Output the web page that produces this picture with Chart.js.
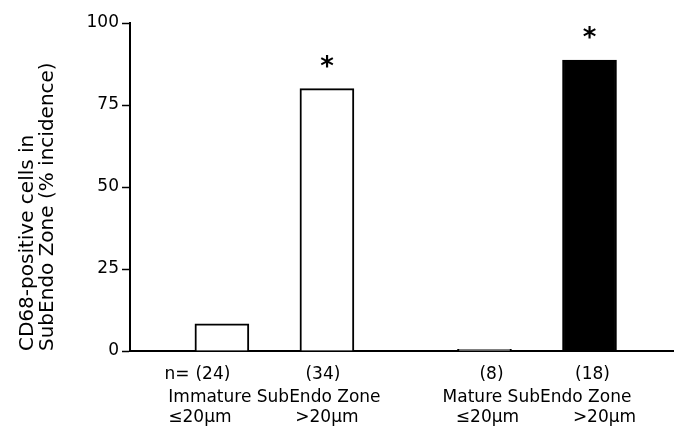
<!DOCTYPE html>
<html>
<head>
<meta charset="utf-8">
<script src="https://cdn.jsdelivr.net/npm/chart.js@4"></script>
<style>
html, body { margin: 0; padding: 0; background: #fff; }
#wrap { width: 675px; height: 426px; }
</style>
</head>
<body>
<div id="wrap"><canvas id="myChart"></canvas></div>
<script>
// bar order: immature <=20, immature >20, mature <=20, mature >20
var slots = [0, 2, 5, 7];
var incidence = [8.3, 80, 0.5, 88.7];
var nLabels = ["(24)", "(34)", "(8)", "(18)"];
var sizeLabels = ["≤20μm", ">20μm", "≤20μm", ">20μm"];
var groupLabels = ["Immature SubEndo Zone", "Mature SubEndo Zone"];
var groupBars = [[0, 1], [2, 3]];
var starred = ["", "*", "", "*"];
var yTicks = [0, 25, 50, 75, 100];
var yTitle = ["CD68-positive cells in", "SubEndo Zone (% incidence)"];

const FONT = "'DejaVu Sans', sans-serif";

// text under the axis + significance stars
const labelPlugin = {
	id: "belowLabels",
	afterDatasetsDraw(chart, args, opts) {
		const ctx = chart.ctx;
		const meta = chart.getDatasetMeta(0);
		const bottom = chart.chartArea.bottom;
		ctx.save();
		ctx.fillStyle = "#000";
		ctx.textAlign = "center";
		ctx.textBaseline = "alphabetic";

		ctx.font = "bold 26px " + FONT;
		meta.data.forEach((bar, i) => {
			if (!starred[i]) return;
			ctx.fillText(starred[i], bar.x, bar.y - 14);
		});

		ctx.font = "17px " + FONT;
		meta.data.forEach((bar, i) => {
			var x = bar.x + opts.nShift[i];
			ctx.fillText(nLabels[i], x, bottom + 28);
			if (i === 0) {
				ctx.textAlign = "right";
				ctx.fillText("n=", x - ctx.measureText(nLabels[i]).width / 2 - 6, bottom + 28);
				ctx.textAlign = "center";
			}
		});

		groupLabels.forEach((g, j) => {
			var a = meta.data[groupBars[j][0]].x;
			var b = meta.data[groupBars[j][1]].x;
			ctx.fillText(g, (a + b) / 2, bottom + 51);
		});

		meta.data.forEach((bar, i) => {
			ctx.fillText(sizeLabels[i], bar.x + opts.sizeShift[i], bottom + 71);
		});
		ctx.restore();
	},
};

Chart.defaults.font.family = FONT;
Chart.defaults.color = "#000";

const chartCanvas = document.getElementById("myChart").getContext("2d");
const chart = new Chart(chartCanvas, {
	type: "bar",
	data: {
		datasets: [
			{
				data: slots.map((s, i) => ({ x: s, y: incidence[i] })),
				backgroundColor: ["#fff", "#fff", "#fff", "#000"],
				borderColor: "#000",
				borderWidth: 2,
				borderSkipped: "start",
				barThickness: 54,
			},
		],
	},
	options: {
		responsive: true,
		maintainAspectRatio: false,
		animation: false,
		layout: {
			padding: { top: 23, right: 2, bottom: 75, left: 0 },
		},
		plugins: {
			legend: { display: false },
			tooltip: { enabled: false },
			belowLabels: {
				nShift: [-9, -4, 7, 3],
				sizeShift: [-22, 0, 3, 15],
			},
		},
		scales: {
			x: {
				type: "linear",
				offset: false,
				min: -1.75,
				max: 8.59,
				grid: { display: false, drawTicks: false },
				ticks: { display: false },
				border: { display: true, color: "#000", width: 2 },
			},
			y: {
				min: 0,
				max: 100,
				afterBuildTicks: (s) => {
					s.ticks = yTicks.map((v) => ({ value: v }));
				},
				afterFit: (s) => {
					s.width = 130;
				},
				ticks: { font: { size: 17 }, padding: 3 },
				grid: { drawOnChartArea: false, drawTicks: true, tickLength: 8, color: "#000", tickWidth: 1.5 },
				border: { color: "#000", width: 2 },
				title: {
					display: true,
					text: yTitle,
					align: "start",
					font: { size: 20, lineHeight: 1.0 },
					padding: { top: 18, bottom: 0 },
				},
			},
		},
	},
	plugins: [labelPlugin],
});
</script>
</body>
</html>
